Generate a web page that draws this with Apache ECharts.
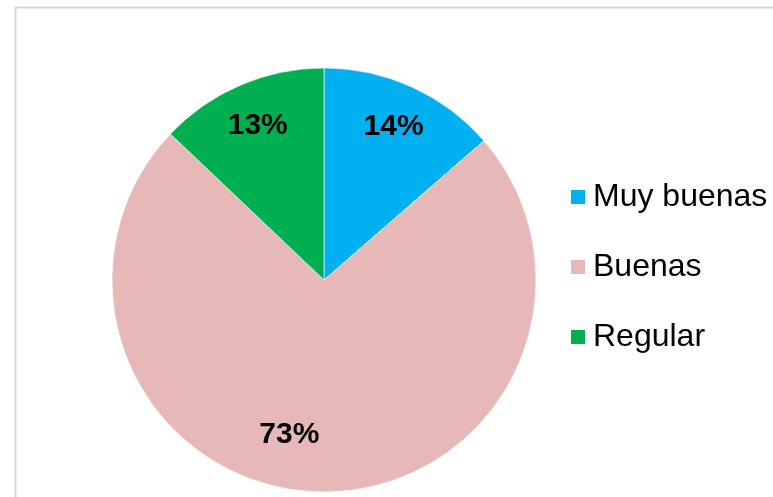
<!DOCTYPE html>
<html>
<head>
<meta charset="utf-8">
<script src="https://cdn.jsdelivr.net/npm/echarts@6/dist/echarts.min.js"></script>
<style>html,body{margin:0;padding:0;background:#fff}#c{width:773px;height:497px}</style>
</head>
<body>
<div id="c"></div>
<script>
const categories = ['Muy buenas', 'Buenas', 'Regular'];
const values = [13.6, 73.5, 12.9];
const colors = ['#00B0F0', '#E6B9B8', '#00B050'];

const data = categories.map((n, i) => ({ name: n, value: values[i], itemStyle: { color: colors[i] } }));

const chart = echarts.init(document.getElementById('c'));
chart.setOption({
  animation: false,
  backgroundColor: '#ffffff',
  graphic: [{
    type: 'rect', left: 13, top: 5, shape: { width: 800, height: 520 },
    style: { fill: 'none', stroke: '#D9D9D9', lineWidth: 2 }, silent: true
  }],
  legend: {
    orient: 'vertical', left: 564, top: 175,
    icon: 'rect', itemWidth: 16, itemHeight: 16, itemGap: 36,
    data: categories,
    textStyle: { fontFamily: 'Liberation Sans, Arial, sans-serif', fontSize: 32, color: '#000', lineHeight: 34, padding: [0, 0, 0, 2] }
  },
  series: [{
    type: 'pie', center: [324, 280], radius: [0, 212], startAngle: 90, clockwise: true,
    percentPrecision: 0,
    label: { show: false }, labelLine: { show: false },
    itemStyle: { borderColor: '#ffffff', borderWidth: 0.6 },
    data: data, silent: true
  }, {
    type: 'pie', center: [324, 280], radius: [118, 212], startAngle: 90, clockwise: true,
    percentPrecision: 0, silent: true,
    itemStyle: { color: 'rgba(0,0,0,0)' },
    label: {
      show: true, position: 'inside', formatter: '{d}%',
      fontFamily: 'Liberation Sans, Arial, sans-serif', fontSize: 30, fontWeight: 'bold', color: '#000'
    },
    labelLine: { show: false },
    data: categories.map((n, i) => ({
      name: n, value: values[i], itemStyle: { color: 'rgba(0,0,0,0)' },
      label: i === 1 ? { offset: [-31, -13] } : {}
    }))
  }]
});
</script>
</body>
</html>
